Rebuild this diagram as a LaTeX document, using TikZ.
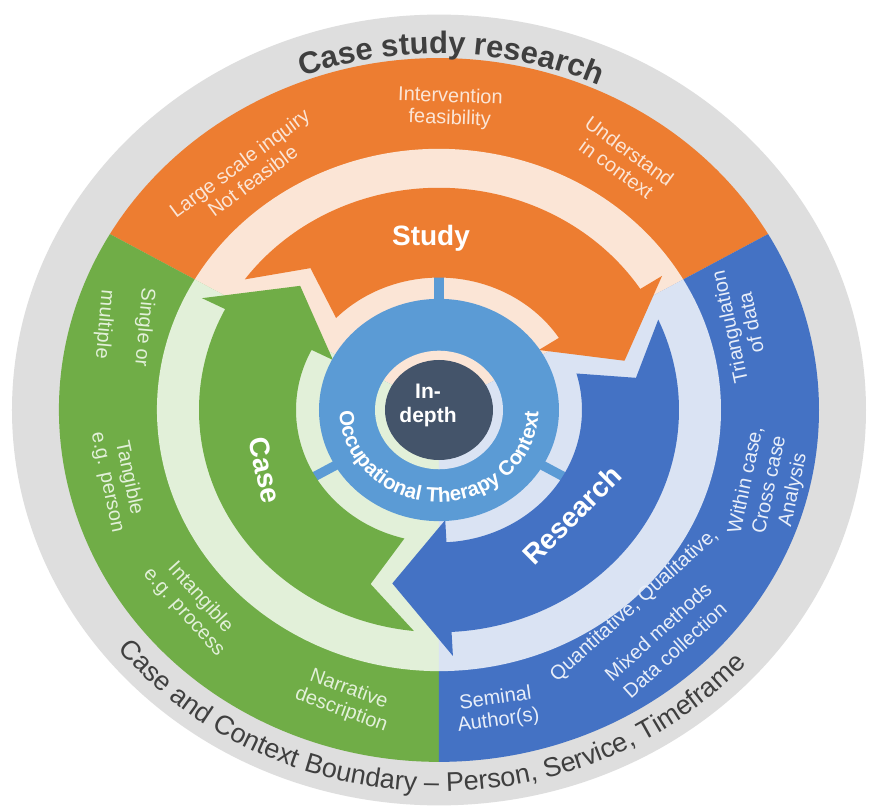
\documentclass[tikz,border=0pt]{standalone}
\usepackage{fontspec}
\setmainfont{Liberation Sans}
\usetikzlibrary{decorations.text}

\definecolor{ringgrey}{HTML}{DEDEDE}
\definecolor{labelgrey}{HTML}{3F3F3F}
\definecolor{studyorange}{HTML}{ED7D31}
\definecolor{casegreen}{HTML}{70AD47}
\definecolor{researchblue}{HTML}{4472C4}
\definecolor{contextblue}{HTML}{5B9BD5}
\definecolor{coreslate}{HTML}{44546A}
\definecolor{studytint}{HTML}{FBE5D6}
\definecolor{casetint}{HTML}{E2F0D9}
\definecolor{researchtint}{HTML}{DAE3F3}
\definecolor{researchtext}{HTML}{E8EEF9}

\tikzset{
  ringnote/.style={align=center, inner sep=0pt, font=\fontsize{20}{22}\selectfont},
  studynote/.style={ringnote, text=studytint},
  casenote/.style={ringnote, text=casetint},
  researchnote/.style={ringnote, text=researchtext},
  arrowlabel/.style={inner sep=0pt, text=white, font=\fontsize{28}{30}\selectfont\bfseries},
}

\begin{document}
\begin{tikzpicture}[x=1pt, y=1pt]
\useasboundingbox (-439,-401) rectangle (437,410);
\fill[white] (-439,-401) rectangle (437,410);

\begin{scope}[yscale=0.926]
  % boundary ring
  \fill[ringgrey] (0,0) circle[radius=427];
  % outer band of the three sectors
  \foreach \ang/\col in {30/studyorange, 150/casegreen, 270/researchblue}{
    \fill[\col] (0,0) -- (\ang:380) arc[start angle=\ang, end angle=\ang+120, radius=380] -- cycle;
  }
  % tinted background behind the cycle arrows
  \foreach \ang/\col in {30/studytint, 150/casetint, 270/researchtint}{
    \fill[\col] (0,0) -- (\ang:282) arc[start angle=\ang, end angle=\ang+120, radius=282] -- cycle;
  }
  % spokes of the context ring
  \foreach \turn in {0,120,240}{
    \fill[contextblue, rotate=\turn] (-5,100) rectangle (5,150);
  }
  % cycle arrows: Case, Study, Research
  \foreach \turn/\col in {0/casegreen, -120/studyorange, 120/researchblue}{
    \fill[\col, rotate=\turn] (264:240) arc[start angle=264, end angle=153, radius=240]
      -- (153:266) -- (136:193) -- (153:119) -- (153:143)
      arc[start angle=153, end angle=256, radius=143]
      -- (250:200) -- cycle;
  }
  % context ring and core
  \fill[contextblue] (0,0) circle[radius=120];
  \foreach \ang/\col in {30/studytint, 150/casetint, 270/researchtint}{
    \fill[\col] (0,0) -- (\ang:64) arc[start angle=\ang, end angle=\ang+120, radius=64] -- cycle;
  }
  \fill[coreslate] (0,0) circle[radius=54];
\end{scope}

% curved titles
\path[decorate, decoration={text along path, text align=center,
    text={|\fontsize{31}{31}\selectfont\bfseries\color{labelgrey}|Case study research}}]
  (178:385 and 356.5) arc[start angle=178, end angle=-2, x radius=385, y radius=356.5];
\path[decorate, decoration={text along path, text align=center,
    text={|\fontsize{27}{27}\selectfont\color{labelgrey}|Case and Context Boundary – Person, Service, Timeframe}}]
  (178.5:412 and 381.5) arc[start angle=178.5, end angle=358.5, x radius=412, y radius=381.5];
\path[decorate, decoration={text along path, text align=center,
    text={|\fontsize{20.5}{20.5}\selectfont\bfseries\color{white}|Occupational Therapy Context}}]
  (180:99.5 and 92) arc[start angle=180, end angle=360, x radius=99.5, y radius=92];

% notes in the outer band
\node[studynote, rotate=36.5] (scale) at (-193,238) {Large scale inquiry\\Not feasible};
\node[studynote, rotate=-2] (feasibility) at (11,302) {Intervention\\feasibility};
\node[studynote, rotate=-36] (understand) at (184,250) {Understand\\in context};
\node[casenote, rotate=-95] (multiplicity) at (-315,84) {Single or\\[18pt]multiple};
\node[casenote, rotate=-78] (tangible) at (-321,-70) {Tangible\\e.g. person};
\node[casenote, rotate=-48] (intangible) at (-247,-195) {Intangible\\e.g. process};
\node[casenote, rotate=-20] (narrative) at (-94,-290) {Narrative\\description};
\node[researchnote, rotate=102] (triangulation) at (301,85) {Triangulation\\of data};
\node[researchnote, rotate=78, font=\fontsize{20}{24}\selectfont] (analysis) at (331,-75) {Within case,\\Cross case\\Analysis};
\node[researchnote, rotate=42, font=\fontsize{20}{25}\selectfont] (methods) at (215,-217) {Quantitative, Qualitative,\\[12pt]Mixed methods\\Data collection};
\node[researchnote, rotate=8] (seminal) at (58,-300) {Seminal\\Author(s)};

% arrow and core labels
\node[arrowlabel] (study) at (-8,172) {Study};
\node[arrowlabel, rotate=-78] (case) at (-174,-60) {Case};
\node[arrowlabel, rotate=45] (research) at (133,-105) {Research};
\node[align=center, inner sep=0pt, text=white, font=\fontsize{21}{24}\selectfont\bfseries] (indepth) at (-11,5) {In-\\depth};
\end{tikzpicture}
\end{document}
